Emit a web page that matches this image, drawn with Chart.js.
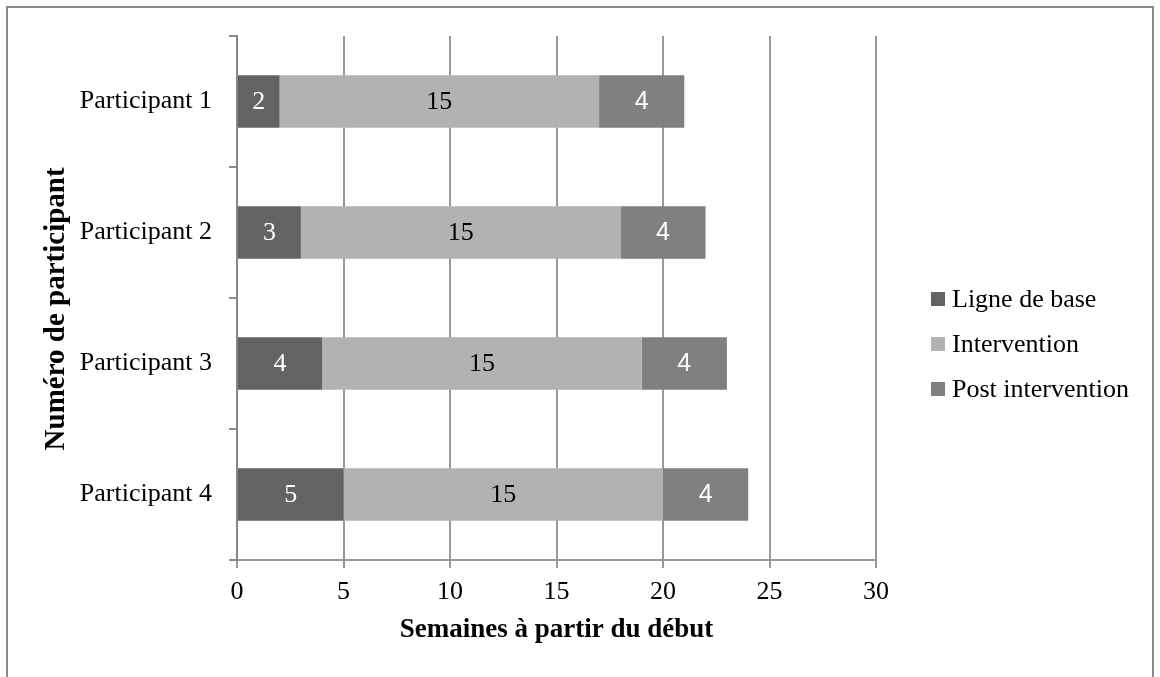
<!DOCTYPE html>
<html>
<head>
<meta charset="utf-8">
<script src="https://cdn.jsdelivr.net/npm/chart.js@4.4.1/dist/chart.umd.min.js"></script>
<style>
  html, body { margin: 0; padding: 0; background: #ffffff; }
  #wrap { width: 1160px; height: 677px; position: relative; }
  canvas { display: block; }
</style>
</head>
<body>
<div id="wrap"><canvas id="chart" width="1160" height="677"></canvas></div>
<script>
// Participants and weeks spent in each phase
const participants = ['Participant 1', 'Participant 2', 'Participant 3', 'Participant 4'];
const ligneDeBase = [2, 3, 4, 5];
const intervention = [15, 15, 15, 15];
const postIntervention = [4, 4, 4, 4];
const seriesNames = ['Ligne de base', 'Intervention', 'Post intervention'];
const weekTicks = [0, 5, 10, 15, 20, 25, 30];

const SERIF = '"Liberation Serif", "Times New Roman", serif';
const SANS = '"Liberation Sans", Arial, sans-serif';

// Outer frame of the figure
const framePlugin = {
  id: 'frame',
  beforeDraw(chart) {
    const ctx = chart.ctx;
    ctx.save();
    ctx.fillStyle = '#ffffff';
    ctx.fillRect(0, 0, chart.width, chart.height);
    ctx.strokeStyle = '#8a8a8a';
    ctx.lineWidth = 2;
    ctx.strokeRect(7, 7, chart.width - 14, chart.height + 40);
    ctx.restore();
  }
};

// Value written in the middle of every bar segment
const valueLabels = {
  id: 'valueLabels',
  afterDatasetsDraw(chart) {
    const ctx = chart.ctx;
    chart.data.datasets.forEach((ds, i) => {
      const meta = chart.getDatasetMeta(i);
      meta.data.forEach((bar, j) => {
        const v = ds.data[j];
        ctx.save();
        ctx.font = ds.labelFont;
        ctx.fillStyle = ds.labelColor;
        ctx.textAlign = 'center';
        ctx.textBaseline = 'middle';
        ctx.fillText(String(v), (bar.x + bar.base) / 2, bar.y + 1);
        ctx.restore();
      });
    });
  }
};

// Legend on the right side, stacked vertically
const sideLegend = {
  id: 'sideLegend',
  afterDraw(chart) {
    const ctx = chart.ctx;
    const area = chart.chartArea;
    const x0 = area.right + 55;
    const rowGap = 45;
    const n = chart.data.datasets.length;
    const yMid = 344;
    chart.data.datasets.forEach((ds, i) => {
      const y = yMid + (i - (n - 1) / 2) * rowGap;
      ctx.save();
      ctx.fillStyle = ds.backgroundColor;
      ctx.fillRect(x0, y - 7, 14, 14);
      ctx.fillStyle = '#000000';
      ctx.font = '26px ' + SERIF;
      ctx.textAlign = 'left';
      ctx.textBaseline = 'middle';
      ctx.fillText(ds.label, x0 + 21, y + 1);
      ctx.restore();
    });
  }
};

new Chart(document.getElementById('chart'), {
  type: 'bar',
  data: {
    labels: participants,
    datasets: [
      {
        label: seriesNames[0],
        data: ligneDeBase,
        backgroundColor: '#636363',
        labelColor: '#ffffff',
        labelFont: '26px ' + SERIF
      },
      {
        label: seriesNames[1],
        data: intervention,
        backgroundColor: '#b2b2b2',
        labelColor: '#000000',
        labelFont: '26px ' + SERIF
      },
      {
        label: seriesNames[2],
        data: postIntervention,
        backgroundColor: '#808080',
        labelColor: '#ffffff',
        labelFont: '25px ' + SANS
      }
    ].map(d => Object.assign(d, { barPercentage: 0.4, categoryPercentage: 1.0, borderWidth: 0 }))
  },
  options: {
    indexAxis: 'y',
    responsive: false,
    animation: false,
    devicePixelRatio: 1,
    layout: { padding: { left: 0, top: 36, right: 284, bottom: 0 } },
    font: { family: SERIF },
    plugins: {
      legend: { display: false },
      tooltip: { enabled: false }
    },
    scales: {
      x: {
        type: 'linear',
        stacked: true,
        min: weekTicks[0],
        max: weekTicks[weekTicks.length - 1],
        afterBuildTicks(scale) {
          scale.ticks = weekTicks.map(v => ({ value: v }));
        },
        afterFit(scale) { scale.height = 117; },
        grid: { color: '#999999', lineWidth: 2, tickLength: 8, drawTicks: true },
        border: { color: '#999999', width: 2 },
        ticks: {
          color: '#000000',
          padding: 9,
          maxRotation: 0,
          font: { family: SERIF, size: 26 }
        },
        title: {
          display: true,
          text: 'Semaines à partir du début',
          color: '#000000',
          font: { family: SERIF, size: 27, weight: 'bold' },
          padding: { top: 0, bottom: 31 }
        }
      },
      y: {
        type: 'category',
        stacked: true,
        afterFit(scale) { scale.width = 237; },
        grid: { offset: true, drawOnChartArea: false, drawTicks: true, tickLength: 8, color: '#8c8c8c', lineWidth: 2 },
        border: { color: '#868686', width: 2 },
        ticks: {
          color: '#000000',
          padding: 17,
          font: { family: SERIF, size: 26 }
        },
        title: {
          display: true,
          // trailing spaces nudge the rotated title slightly downward
          text: 'Numéro de participant   ',
          color: '#000000',
          font: { family: SERIF, size: 29, weight: 'bold' },
          padding: { top: 39, bottom: 0 }
        }
      }
    }
  },
  plugins: [framePlugin, valueLabels, sideLegend]
});
</script>
</body>
</html>
